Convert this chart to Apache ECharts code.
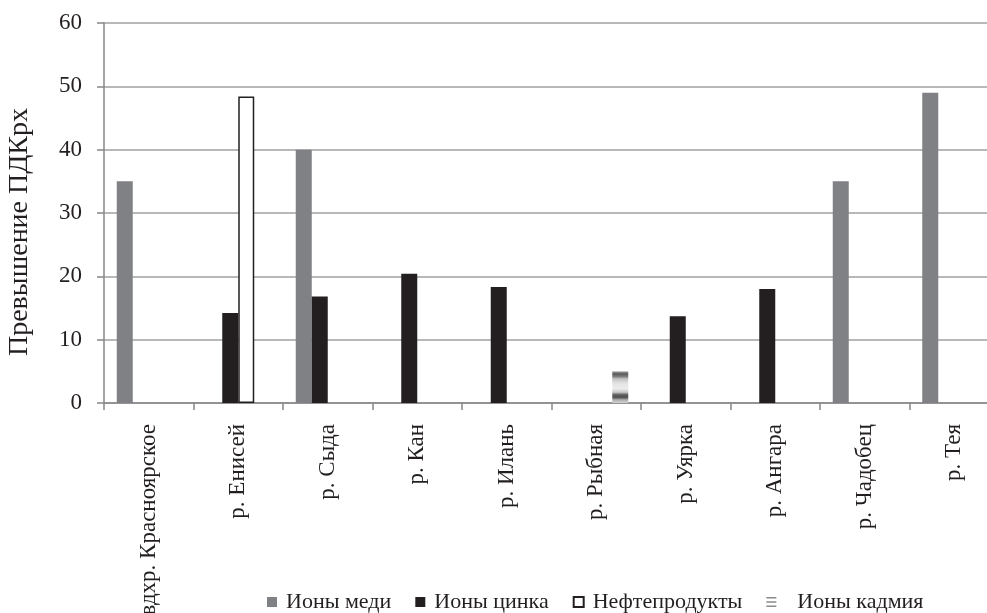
<!DOCTYPE html>
<html><head><meta charset="utf-8">
<script src="https://cdn.jsdelivr.net/npm/echarts@6/dist/echarts.min.js"></script>
<style>html,body{margin:0;padding:0;background:#fff}#c{width:987px;height:613px}</style>
</head><body><div id="c"></div>
<script>
const categories = ['вдхр. Красноярское','р. Енисей','р. Сыда','р. Кан','р. Илань','р. Рыбная','р. Уярка','р. Ангара','р. Чадобец','р. Тея'];
const copper  = [35, null, 40, null, null, null, null, null, 35, 49];
const zinc    = [null, 14.2, 16.8, 20.4, 18.3, null, 13.7, 18, null, null];
const oil     = [null, 48.4, null, null, null, null, null, null, null, null];
const cadmium = [null, null, null, null, null, 5, null, null, null, null];
const seriesNames = ['Ионы меди','Ионы цинка','Нефтепродукты','Ионы кадмия'];
const yTicks = [0,10,20,30,40,50,60];

const FONT = '"Liberation Serif", "DejaVu Serif", serif';
const TXT = '#231f20';
const chart = echarts.init(document.getElementById('c'), null, {renderer:'canvas'});
const cadGrad = new echarts.graphic.LinearGradient(0,0,0,1,[
  {offset:0,color:'#a8a8a8'},{offset:0.08,color:'#5a5a5a'},{offset:0.16,color:'#7a7a7a'},
  {offset:0.24,color:'#c4c4c4'},{offset:0.4,color:'#e6e6e6'},{offset:0.55,color:'#ececec'},
  {offset:0.66,color:'#c6c6c6'},{offset:0.74,color:'#5e5e5e'},{offset:0.82,color:'#505050'},
  {offset:0.9,color:'#adadad'},{offset:1,color:'#d4d4d4'}]);
const bw = 16;
chart.setOption({
  animation:false,
  grid:{left:104,right:-12,top:23,bottom:210,containLabel:false,outerBoundsMode:'none'},
  legend:{
    left:262, top:586, itemWidth:10, itemHeight:10, itemGap:24,
    textStyle:{fontFamily:FONT,fontSize:22,color:TXT,padding:[0,0,0,4]},
    data:[
      {name:seriesNames[0],icon:'rect'},
      {name:seriesNames[1],icon:'rect'},
      {name:seriesNames[2],icon:'rect'},
      {name:seriesNames[3],icon:'path://M0,0H10V1.6H0Z M0,4.2H10V5.8H0Z M0,8.4H10V10H0Z',itemStyle:{color:'#8a8a8a'},
        textStyle:{padding:[0,0,0,16]}}
    ]
  },
  xAxis:{
    type:'category', data:categories,
    axisLine:{lineStyle:{color:'#86878a',width:1.5}},
    axisTick:{show:true,length:7,lineStyle:{color:'#86878a',width:1.5}},
    axisLabel:{rotate:90,margin:21,interval:0,fontFamily:FONT,fontSize:23,color:TXT},
    splitLine:{show:false}
  },
  yAxis:{
    type:'value', min:0, max:60, interval:10,
    name:'Превышение ПДКрх', nameLocation:'middle', nameGap:70, nameRotate:90,
    nameTextStyle:{fontFamily:FONT,fontSize:28,color:TXT,padding:[0,38,0,0]},
    axisLine:{show:true,lineStyle:{color:'#86878a',width:1.5}},
    axisTick:{show:true,length:7,lineStyle:{color:'#86878a',width:1.5}},
    axisLabel:{margin:22,fontFamily:FONT,fontSize:23,color:TXT,
      formatter:v=>yTicks.includes(v)?String(v):''},
    splitLine:{show:true,lineStyle:{color:'#a0a0a0',width:1.5}}
  },
  series:[
    {name:seriesNames[0],type:'bar',data:copper,barWidth:bw,barGap:'0%',itemStyle:{color:'#808184'}},
    {name:seriesNames[1],type:'bar',data:zinc,barWidth:bw,barGap:'0%',itemStyle:{color:'#231f20'}},
    {name:seriesNames[2],type:'bar',data:oil,barWidth:bw,barGap:'0%',itemStyle:{color:'#ffffff',borderColor:'#231f20',borderWidth:1.5}},
    {name:seriesNames[3],type:'bar',data:cadmium,barWidth:bw,barGap:'0%',itemStyle:{color:cadGrad}}
  ]
});
</script></body></html>
